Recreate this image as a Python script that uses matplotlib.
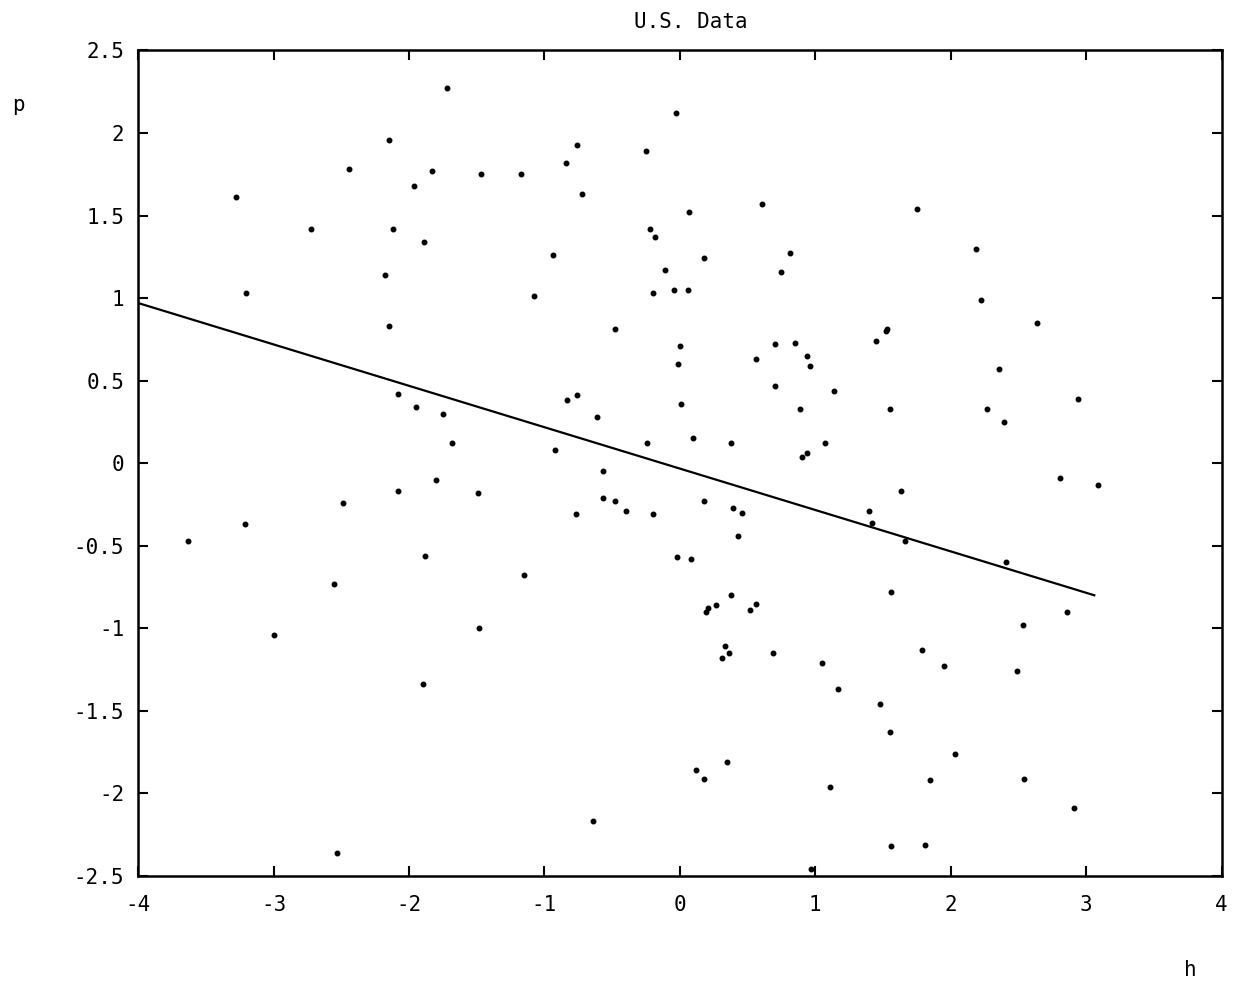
import numpy as np
import matplotlib
matplotlib.use('Agg')
import matplotlib.pyplot as plt

plt.rcParams['font.family'] = ['DejaVu Sans Mono']
plt.rcParams['axes.unicode_minus'] = False

# 散点数据 (h, p)
h = [-1.72, -2.15, -2.44, -1.83, -1.47, -1.96, -3.28, -2.12, -2.72, -1.89,
     -2.18, -3.20, -2.15,
     -0.03, -0.76, -0.84, -0.25, -1.17, -0.72, 0.61, 0.07, -0.22, -0.18,
     -0.94, 0.81, 0.18, 0.75, -0.11, -1.08, -0.04, 0.06, -0.20, -0.48,
     1.75, 2.19, 2.22, 2.64, 1.53,
     -2.08, -1.95, -1.75, -1.68, -1.80, -2.08, -1.49, -2.49, -3.21, -3.63,
     -1.88, -2.55,
     0.00, 0.70, 0.85, 0.94, 0.96, 0.56, -0.01, 0.70, 1.14, 0.89, -0.83,
     -0.76, 0.01, -0.61, 0.10, 0.38, -0.24, 1.07, -0.92, 0.90, 0.94, -0.57,
     0.18, -0.57, -0.48, -0.40, -0.20, -0.77, 0.39, 0.46, 0.43, -0.02, 0.08,
     -1.15, 0.38,
     0.19, 0.21, 0.27, 0.52, 0.56, 0.33, 0.36, 0.31, 0.69, 1.05, 1.17, 0.35,
     0.12, 0.18, 1.11, -0.64, 0.97,
     1.52, 1.45, 2.36, 2.94, 1.55, 2.27, 2.39, 2.81, 3.09, 1.63, 1.40, 1.42,
     1.66, 2.41, 1.56,
     2.86, 2.53, 1.79, 1.95, 2.49, 1.48, 1.55, 2.03, 1.85, 2.54, 2.91, 1.56,
     1.81,
     -3.00, -1.48, -1.90, -2.53]
p = [2.27, 1.96, 1.78, 1.77, 1.75, 1.68, 1.61, 1.42, 1.42, 1.34,
     1.14, 1.03, 0.83,
     2.12, 1.93, 1.82, 1.89, 1.75, 1.63, 1.57, 1.52, 1.42, 1.37,
     1.26, 1.27, 1.24, 1.16, 1.17, 1.01, 1.05, 1.05, 1.03, 0.81,
     1.54, 1.30, 0.99, 0.85, 0.81,
     0.42, 0.34, 0.30, 0.12, -0.10, -0.17, -0.18, -0.24, -0.37, -0.47,
     -0.56, -0.73,
     0.71, 0.72, 0.73, 0.65, 0.59, 0.63, 0.60, 0.47, 0.44, 0.33, 0.38,
     0.41, 0.36, 0.28, 0.15, 0.12, 0.12, 0.12, 0.08, 0.04, 0.06, -0.05,
     -0.23, -0.21, -0.23, -0.29, -0.31, -0.31, -0.27, -0.30, -0.44, -0.57,
     -0.58, -0.68, -0.80,
     -0.90, -0.88, -0.86, -0.89, -0.85, -1.11, -1.15, -1.18, -1.15, -1.21,
     -1.37, -1.81, -1.86, -1.91, -1.96, -2.17, -2.46,
     0.80, 0.74, 0.57, 0.39, 0.33, 0.33, 0.25, -0.09, -0.13, -0.17, -0.29,
     -0.36, -0.47, -0.60, -0.78,
     -0.90, -0.98, -1.13, -1.23, -1.26, -1.46, -1.63, -1.76, -1.92, -1.91,
     -2.09, -2.32, -2.31,
     -1.04, -1.00, -1.34, -2.36]

# 回归直线
line_h = [-4.0, 3.06]
line_p = [0.97, -0.80]

xticks = [-4, -3, -2, -1, 0, 1, 2, 3, 4]
yticks = [-2.5, -2, -1.5, -1, -0.5, 0, 0.5, 1, 1.5, 2, 2.5]
ytick_labels = ['-2.5', '-2', '-1.5', '-1', '-0.5', '0', '0.5', '1', '1.5', '2', '2.5']

fig = plt.figure(figsize=(12.44, 9.88), dpi=100)
ax = fig.add_axes([0.111, 0.1134, 0.871, 0.8356])

ax.plot(h, p, 'k.', markersize=6.5)
ax.plot(line_h, line_p, 'k-', linewidth=1.6)

ax.set_xlim(-4, 4)
ax.set_ylim(-2.5, 2.5)
ax.set_xticks(xticks)
ax.set_yticks(yticks)
ax.set_yticklabels(ytick_labels)
ax.tick_params(direction='in', top=True, right=True, length=7, width=1.5,
               labelsize=15)
ax.tick_params(axis='x', pad=14)
ax.tick_params(axis='y', pad=10)
for s in ax.spines.values():
    s.set_linewidth(1.8)

fig.text(0.555, 0.978, 'U.S. Data', ha='center', va='center', fontsize=15)
fig.text(0.010, 0.888, 'p', fontsize=15)
fig.text(0.952, 0.012, 'h', fontsize=15)

plt.savefig('out.png', dpi=100)
